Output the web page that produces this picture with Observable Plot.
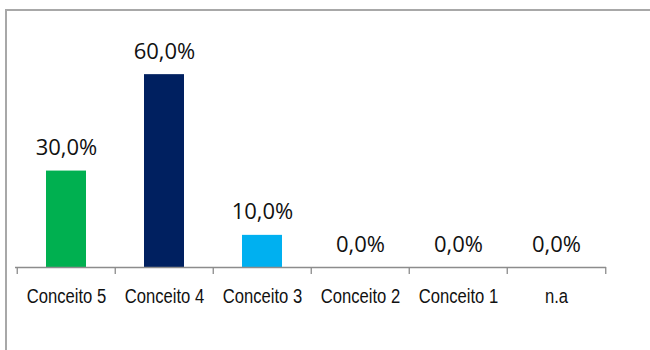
<!DOCTYPE html>
<html>
<head>
<meta charset="utf-8">
<script src="https://cdn.jsdelivr.net/npm/d3@7"></script>
<script src="https://cdn.jsdelivr.net/npm/@observablehq/plot@0.6"></script>
<style>
  html, body { margin: 0; padding: 0; background: #fff; overflow: hidden; }
  #frame { position: absolute; left: 5px; top: 9px; width: 700px; height: 400px; border: 2px solid #a8a8a8; box-sizing: border-box; }
  #chart { position: absolute; left: 0; top: 0; }
</style>
</head>
<body>
<div id="frame"></div>
<div id="chart"></div>
<script>
const categories = ["Conceito 5", "Conceito 4", "Conceito 3", "Conceito 2", "Conceito 1", "n.a"];
const values = [30, 60, 10, 0, 0, 0];
const colors = ["#00B050", "#002060", "#00B0F0", "#00B0F0", "#00B0F0", "#00B0F0"];

const data = categories.map((c, i) => ({category: c, value: values[i], color: colors[i]}));

const W = 650, H = 350, mL = 15, mR = 44;
const step = (W - mL - mR) / categories.length;
const fmt = d => d.toFixed(1).replace(".", ",") + "%";

const chart = Plot.plot({
  width: W,
  height: H,
  marginLeft: mL,
  marginRight: mR,
  marginTop: 42,
  marginBottom: 83,
  style: {background: "transparent"},
  x: {domain: categories, paddingInner: 0.594, paddingOuter: 0.297, label: null},
  y: {domain: [0, 70], axis: null},
  marks: [
    Plot.barY(data, {x: "category", y: "value", fill: "color"}),
    Plot.ruleY([0], {stroke: "#8c8c8c", strokeWidth: 1.3}),
    Plot.ruleX(categories, {x: d => d, y1: 0, y2: 0, insetBottom: -7, dx: -step / 2, stroke: "#8c8c8c", strokeWidth: 1.3}),
    Plot.ruleX([categories[categories.length - 1]], {x: d => d, y1: 0, y2: 0, insetBottom: -7, dx: step / 2, stroke: "#8c8c8c", strokeWidth: 1.3}),
    Plot.text(data, {x: "category", y: "value", text: d => fmt(d.value), dy: -16, lineAnchor: "bottom", fontSize: 22, fill: "#111", fontFamily: "Open Sans"}),
    Plot.axisX({tickSize: 0, tickPadding: 21, fontSize: 20.5, fontFamily: "Liberation Sans", fill: "#111", label: null})
  ]
});
document.getElementById("chart").append(chart);
chart.querySelectorAll("[aria-label='x-axis tick label'] text").forEach(t => {
  const len = t.getComputedTextLength();
  t.setAttribute("textLength", (len * 0.81).toFixed(1));
  t.setAttribute("lengthAdjust", "spacingAndGlyphs");
});
</script>
</body>
</html>
